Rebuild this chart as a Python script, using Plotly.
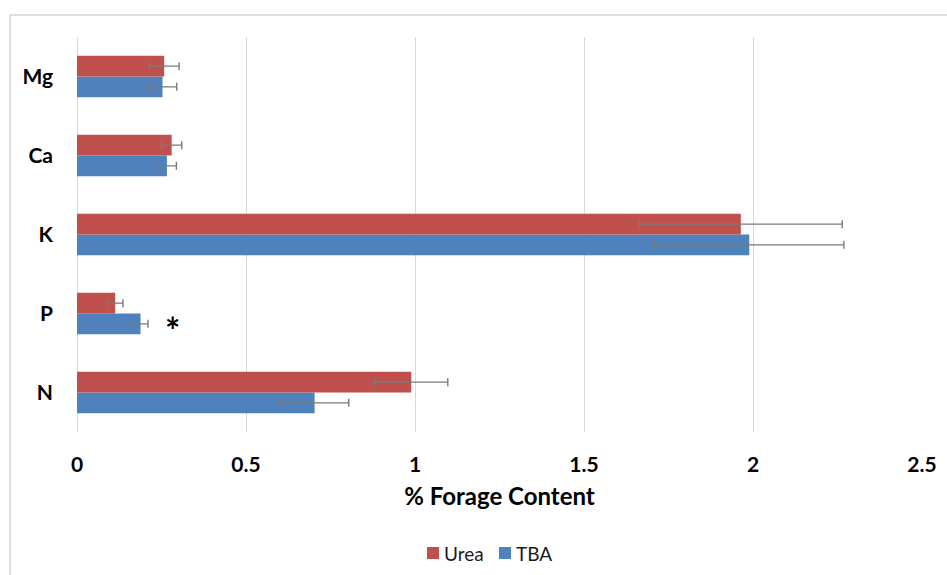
import plotly.graph_objects as go

# Nutrient categories, listed bottom to top on the y axis
nutrients = ["N", "P", "K", "Ca", "Mg"]

# Mean % forage content per treatment
urea_values = [0.989, 0.113, 1.964, 0.280, 0.258]
tba_values = [0.703, 0.188, 1.989, 0.266, 0.253]

# Error bar half-lengths
urea_err = [0.108, 0.023, 0.300, 0.030, 0.044]
tba_err = [0.101, 0.022, 0.280, 0.028, 0.042]

x_ticks = [0, 0.5, 1, 1.5, 2, 2.5]
x_tick_labels = ["0", "0.5", "1", "1.5", "2", "2.5"]

RED = "#C0504D"
BLUE = "#4F81BD"
ERR_COLOR = "#7a7a7a"
GRID = "#d9d9d9"
FONT = "Lato"

# Plot area geometry in pixels (used to place the frame and legend)
W, H = 947, 575
ML, MR, MT, MB = 77, 25, 37, 143
PW, PH = W - ML - MR, H - MT - MB


def px_to_paper(px, py):
    return (px - ML) / PW, (H - MB - py) / PH


fig = go.Figure()

# TBA first so it sits below Urea within each group
fig.add_trace(go.Bar(
    name="TBA", y=nutrients, x=tba_values, orientation="h",
    marker=dict(color=BLUE, line=dict(width=0)),
    error_x=dict(type="data", array=tba_err, visible=True,
                 color=ERR_COLOR, thickness=1.4, width=4),
    showlegend=False,
))
fig.add_trace(go.Bar(
    name="Urea", y=nutrients, x=urea_values, orientation="h",
    marker=dict(color=RED, line=dict(width=0)),
    error_x=dict(type="data", array=urea_err, visible=True,
                 color=ERR_COLOR, thickness=1.4, width=4),
    showlegend=False,
))

# Significance marker next to the P / TBA bar
fig.add_annotation(
    x=0.282, y="P", xref="x", yref="y", text="<b>*</b>",
    showarrow=False, yshift=-16,
    font=dict(family=FONT, size=36, color="#000000"),
)

# Light outer frame of the chart area
fx0, fy1 = px_to_paper(10, 15)
fig.add_shape(
    type="rect", xref="paper", yref="paper",
    x0=fx0, x1=1.2, y0=-0.6, y1=fy1,
    line=dict(color="#d4d4d4", width=1.5), fillcolor="rgba(0,0,0,0)",
    layer="below",
)

# Legend below the axis title: colour swatch + series name
legend_items = [("Urea", RED, 433), ("TBA", BLUE, 505)]
legend_y = 553
for name, color, cx in legend_items:
    x0, y0 = px_to_paper(cx - 6, legend_y + 6)
    x1, y1 = px_to_paper(cx + 6, legend_y - 6)
    fig.add_shape(type="rect", xref="paper", yref="paper",
                  x0=x0, x1=x1, y0=y0, y1=y1,
                  line=dict(width=0), fillcolor=color)
    tx, ty = px_to_paper(cx + 9, legend_y)
    fig.add_annotation(x=tx, y=ty, xref="paper", yref="paper",
                       text=name, showarrow=False,
                       xanchor="left", yanchor="middle",
                       font=dict(family=FONT, size=19, color="#1a1a1a"))

fig.update_layout(
    width=W, height=H,
    margin=dict(l=ML, r=MR, t=MT, b=MB, autoexpand=False),
    paper_bgcolor="white", plot_bgcolor="white",
    barmode="group", bargap=0.477, bargroupgap=0,
    font=dict(family=FONT, color="#000000"),
    showlegend=False,
    xaxis=dict(
        range=[0, 2.5], tickvals=x_ticks, ticktext=x_tick_labels,
        showgrid=True, gridcolor=GRID, gridwidth=1,
        zeroline=True, zerolinecolor=GRID, zerolinewidth=1,
        showline=False, ticks="", automargin=False,
        ticklabelstandoff=18,
        tickfont=dict(family=FONT, size=21, color="#000000", weight="bold"),
        title=dict(text="% Forage Content", standoff=13,
                   font=dict(family=FONT, size=24, color="#000000", weight="bold")),
    ),
    yaxis=dict(
        categoryorder="array", categoryarray=nutrients,
        range=[-0.5, 4.5], automargin=False,
        showgrid=False, showline=False, ticks="", zeroline=False,
        ticklabelstandoff=23,
        tickfont=dict(family=FONT, size=21, color="#000000", weight="bold"),
    ),
)

fig.write_html("out.html")
